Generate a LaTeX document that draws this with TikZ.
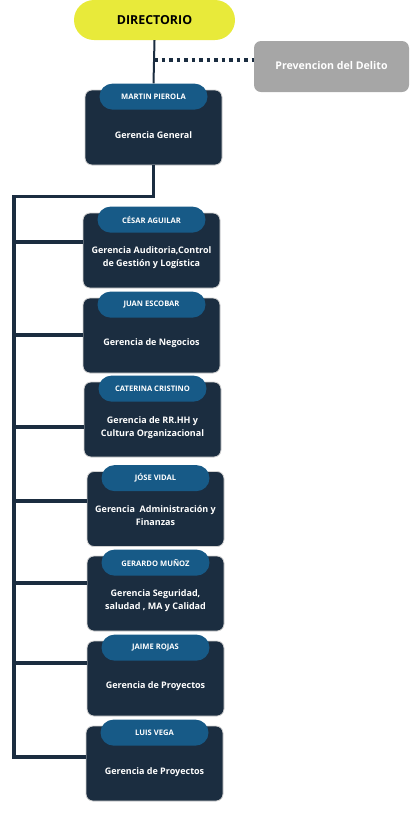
\documentclass[tikz,border=0pt]{standalone}
\usepackage{fontspec}
\setmainfont{Open Sans}
\usepackage{tikz}
\usetikzlibrary{positioning, calc}
\definecolor{navy}{RGB}{27,45,64}
\definecolor{tagblue}{RGB}{23,90,135}
\definecolor{lemon}{RGB}{232,234,58}
\definecolor{stone}{RGB}{166,166,166}

\begin{document}
\begin{tikzpicture}[
			x=1pt, y=1pt,
			mgr/.style={draw=gray!35, line width=0.8pt, fill=navy, rounded corners=7pt,
				minimum width=137pt, minimum height=75pt},
			tag/.style={fill=tagblue, rounded corners=13pt, minimum width=108pt, minimum height=26pt,
				text=white, font=\fontsize{7.6}{9}\selectfont\bfseries, inner sep=0pt},
			body/.style={text=white, align=center, font=\fontsize{9}{13}\selectfont\bfseries},
			board/.style={fill=lemon, rounded corners=20pt, minimum width=161pt, minimum height=40pt,
				font=\fontsize{12.4}{14}\selectfont\bfseries},
			side/.style={fill=stone, rounded corners=7pt, minimum width=155pt, minimum height=51pt,
				text=white, font=\fontsize{10.6}{12}\selectfont\bfseries},
			link/.style={draw=navy, line width=3.5pt},
			thinlink/.style={draw=navy, line width=2pt},
			dots/.style={draw=navy, line width=3.5pt, dash pattern=on 3.5pt off 4pt}
			]
			\useasboundingbox (0,0) rectangle (416,-815);
			
			% Top
			\node[board] (dir) at (154.5,-20) {DIRECTORIO};
			\node[side] (prev) at (331.5,-66.5) {\raisebox{2pt}{Prevencion del Delito}};
			
			% Managers
			\node[mgr] (gg)      at (153.5,-127.5) {};
			\node[mgr] (cesar)   at (151.5,-250.5) {};
			\node[mgr] (juan)    at (151.5,-335.5) {};
			\node[mgr] (cater)   at (152.5,-419.5) {};
			\node[mgr] (jose)    at (155.5,-509) {};
			\node[mgr] (gerardo) at (155.5,-593.5) {};
			\node[mgr] (jaime)   at (155.5,-678.5) {};
			\node[mgr] (luis)    at (154.5,-763.5) {};
			
			% Name tags
			\node[tag] (tgg)      at ([yshift=-7pt]gg.north)      {MARTIN PIEROLA};
			\node[tag] (tcesar)   at ([yshift=-7pt]cesar.north)   {CÉSAR AGUILAR};
			\node[tag] (tjuan)    at ([yshift=-7pt]juan.north)    {JUAN ESCOBAR};
			\node[tag] (tcater)   at ([yshift=-7pt]cater.north)   {CATERINA CRISTINO};
			\node[tag] (tjose)    at ([yshift=-7pt]jose.north)    {JÓSE VIDAL};
			\node[tag] (tgerardo) at ([yshift=-7pt]gerardo.north) {GERARDO MUÑOZ};
			\node[tag] (tjaime)   at ([yshift=-7pt]jaime.north)   {JAIME ROJAS};
			\node[tag] (tluis)    at ([yshift=-7pt]luis.north)    {LUIS VEGA};
			
			% Titles
			\node[body] (bgg)      at ([yshift=-8pt]gg.center)      {Gerencia General};
			\node[body] (bcesar)   at ([yshift=-7pt]cesar.center)   {Gerencia Auditoria,Control\\de Gestión y Logística};
			\node[body] (bjuan)    at ([yshift=-8pt]juan.center)    {Gerencia de Negocios};
			\node[body] (bcater)   at ([yshift=-8pt]cater.center)   {Gerencia de RR.HH y\\Cultura Organizacional};
			\node[body] (bjose)    at ([yshift=-7pt]jose.center)    {Gerencia\ \ Administración y\\Finanzas};
			\node[body] (bgerardo) at ([yshift=-7pt]gerardo.center) {Gerencia Seguridad,\\saludad , MA y Calidad};
			\node[body] (bjaime)   at ([yshift=-8pt]jaime.center)   {Gerencia de Proyectos};
			\node[body] (bluis)    at ([yshift=-9pt]luis.center)    {Gerencia de Proyectos};
			
			% Trunk points
			\coordinate (top) at (14,-196.5);
			\coordinate (bot) at (14,-757);
			\coordinate (k1) at (14,-242);
			\coordinate (k2) at (14,-335);
			\coordinate (k3) at (14,-427);
			\coordinate (k4) at (14,-501);
			\coordinate (k5) at (14,-583);
			\coordinate (k6) at (14,-663);
			\coordinate (dj) at (154,-60);
			
			% Lines
			\draw[thinlink] (dir.south) -- (tgg.north);
			\draw[dots] (dj) -- (dj -| prev.west);
			\draw[link, line join=miter] (gg.south) -- (gg.south |- top) -- (top) -- (bot) -- (bot -| luis.west);
			\draw[link] (k1) -- (k1 -| cesar.west);
			\draw[link] (k2) -- (k2 -| juan.west);
			\draw[link] (k3) -- (k3 -| cater.west);
			\draw[link] (k4) -- (k4 -| jose.west);
			\draw[link] (k5) -- (k5 -| gerardo.west);
			\draw[link] (k6) -- (k6 -| jaime.west);
			
		\end{tikzpicture}
\end{document}
